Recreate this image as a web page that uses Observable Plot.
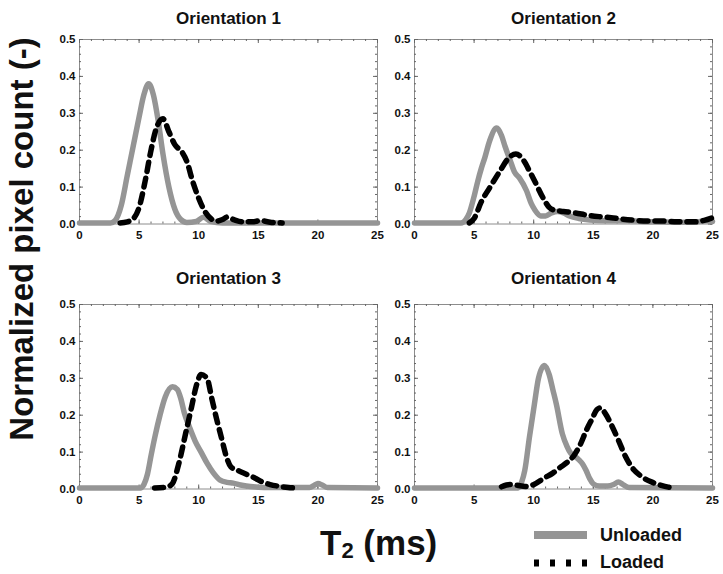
<!DOCTYPE html>
<html>
<head>
<meta charset="utf-8">
<script src="https://cdn.jsdelivr.net/npm/d3@7"></script>
<script src="https://cdn.jsdelivr.net/npm/@observablehq/plot@0.6"></script>
<style>
  body { margin: 0; background: #fff; }
  #chart { position: relative; width: 723px; height: 574px; overflow: hidden; background: #fff;
           font-family: "Liberation Sans", Arial, sans-serif; }
  .panel { position: absolute; }
  .panel svg { overflow: visible; }
  .panel svg text { font-weight: bold; }
  #overlay { position: absolute; left: 0; top: 0; }
</style>
</head>
<body>
<div id="chart"></div>
<script>
// T2 distributions (T2 in ms, normalized pixel count) for each orientation
const panelTitles = ["Orientation 1", "Orientation 2", "Orientation 3", "Orientation 4"];

const o1Unloaded = [[0,0.003],[2.6,0.003],[3.0,0.01],[3.5,0.05],[4.0,0.13],[4.5,0.21],[5.0,0.29],[5.4,0.35],[5.8,0.38],
  [6.2,0.35],[6.6,0.28],[7.0,0.19],[7.5,0.1],[8.0,0.04],[8.5,0.012],[9.0,0.004],[9.8,0.007],[10.4,0.018],[11.0,0.007],[12.0,0.003],[25,0.003]];
const o1Loaded = [[3.4,0.003],[4.0,0.006],[4.5,0.014],[5.0,0.045],[5.5,0.115],[6.0,0.2],[6.4,0.255],[7.0,0.285],[7.5,0.25],
  [8.0,0.215],[8.6,0.195],[9.0,0.17],[9.5,0.115],[10.0,0.07],[10.5,0.035],[11.0,0.015],[11.5,0.008],[12.0,0.012],[12.4,0.019],
  [13.0,0.011],[13.6,0.006],[14.5,0.006],[15.2,0.009],[16.0,0.005],[17.0,0.003]];

const o2Unloaded = [[0,0.003],[3.9,0.003],[4.3,0.012],[4.6,0.03],[5.0,0.075],[5.3,0.115],[5.6,0.15],[5.9,0.18],[6.3,0.225],
  [6.9,0.26],[7.3,0.24],[7.6,0.21],[8.0,0.175],[8.4,0.14],[8.8,0.125],[9.4,0.09],[9.8,0.055],[10.1,0.038],[10.6,0.022],
  [11.0,0.022],[11.5,0.03],[12.0,0.034],[12.5,0.03],[13.0,0.022],[13.8,0.015],[14.7,0.011],[16.0,0.009],[18.0,0.009],
  [19.0,0.007],[20.0,0.006],[22.0,0.005],[23.5,0.005],[24.5,0.009],[25,0.007]];
const o2Loaded = [[4.6,0.003],[5.0,0.015],[5.6,0.06],[6.3,0.098],[7.2,0.145],[7.8,0.175],[8.5,0.19],[9.2,0.17],[9.7,0.14],
  [10.1,0.115],[10.8,0.07],[11.3,0.045],[11.8,0.037],[12.5,0.034],[13.5,0.03],[14.5,0.024],[15.5,0.02],[16.5,0.017],
  [17.5,0.013],[18.5,0.01],[19.5,0.008],[20.8,0.008],[22.0,0.006],[23.5,0.006],[24.3,0.01],[25,0.017]];

const o3Unloaded = [[0,0.003],[5.1,0.003],[5.4,0.012],[5.7,0.04],[6.0,0.09],[6.35,0.145],[6.75,0.2],[7.2,0.25],[7.8,0.277],
  [8.2,0.27],[8.5,0.245],[8.8,0.205],[9.2,0.17],[9.7,0.13],[10.2,0.1],[10.7,0.07],[11.2,0.045],[11.8,0.024],[12.4,0.018],
  [12.9,0.016],[13.5,0.011],[14.0,0.008],[15.0,0.005],[16.0,0.004],[19.3,0.004],[19.7,0.01],[20.0,0.015],[20.4,0.01],
  [20.8,0.004],[25,0.003]];
const o3Loaded = [[6.3,0.003],[7.3,0.005],[7.8,0.015],[8.3,0.065],[8.9,0.15],[9.4,0.222],[9.8,0.28],[10.2,0.31],[10.7,0.3],
  [11.1,0.245],[11.5,0.19],[11.9,0.14],[12.3,0.09],[12.7,0.06],[13.3,0.05],[14.0,0.04],[14.7,0.03],[15.4,0.018],[16.0,0.012],
  [16.8,0.007],[17.5,0.004],[18.0,0.003]];

const o4Unloaded = [[0,0.003],[8.7,0.003],[9.0,0.02],[9.25,0.05],[9.64,0.14],[10.06,0.23],[10.4,0.3],[10.9,0.335],[11.3,0.31],
  [11.6,0.27],[11.9,0.23],[12.4,0.15],[12.8,0.115],[13.1,0.097],[13.5,0.088],[13.8,0.079],[14.1,0.068],[14.4,0.05],
  [14.7,0.028],[15.0,0.014],[15.5,0.008],[16.2,0.008],[16.7,0.012],[17.1,0.019],[17.5,0.012],[18.0,0.004],[25,0.003]];
const o4Loaded = [[7.3,0.006],[8.0,0.012],[8.6,0.01],[9.3,0.007],[10.0,0.012],[10.9,0.03],[11.6,0.043],[12.2,0.058],
  [12.8,0.072],[13.4,0.092],[13.9,0.12],[14.4,0.158],[14.9,0.19],[15.3,0.215],[15.6,0.22],[16.0,0.205],[16.5,0.175],
  [17.1,0.133],[17.7,0.088],[18.4,0.052],[19.0,0.035],[19.8,0.02],[20.5,0.012],[21.3,0.005],[21.8,0.003]];

// axis ticks
const xTicks = [0, 5, 10, 15, 20, 25];
const yTicks = [0, 0.1, 0.2, 0.3, 0.4, 0.5];
const xMinor = d3.range(0, 26, 1);
const yMinor = d3.range(0, 26, 1).map(i => i * 0.02);

const seriesNames = ["Unloaded", "Loaded"];
const unloadedGray = "#959595";
const frameGray = "#8c8c8c";
const tickGray = "#666";

const chart = document.getElementById("chart");

// frame geometry of the 2x2 grid
const W = 298, H = 184.5;
const colLeft = [79.3, 414.3];
const rowTop = [38.5, 304.3];
const titleGap = [16, 21];

function panel(title, unloaded, loaded, col, row) {
  const mL = 40, mR = 10, mT = 40, mB = 26;
  const plot = Plot.plot({
    width: mL + W + mR,
    height: mT + H + mB,
    marginLeft: mL, marginRight: mR, marginTop: mT, marginBottom: mB,
    style: { background: "transparent", fontSize: "11.5px", fontFamily: "'Liberation Sans', Arial, sans-serif", color: "#111" },
    x: { domain: [0, 25], ticks: xTicks, tickSize: 0, tickPadding: 6.5, label: null, tickFormat: d => String(d) },
    y: { domain: [0, 0.5], ticks: yTicks, tickSize: 0, tickPadding: 4, label: null, tickFormat: d3.format(".1f") },
    marks: [
      Plot.frame({ stroke: frameGray, strokeWidth: 1 }),
      // minor and major ticks along all four edges, pointing inward
      Plot.tickX(xMinor, { x: d => d, insetTop: H - 2, stroke: tickGray }),
      Plot.tickX(xTicks, { x: d => d, insetTop: H - 4, stroke: tickGray }),
      Plot.tickX(xMinor, { x: d => d, insetBottom: H - 2, stroke: tickGray }),
      Plot.tickX(xTicks, { x: d => d, insetBottom: H - 4, stroke: tickGray }),
      Plot.tickY(yMinor, { y: d => d, insetRight: W - 2, stroke: tickGray }),
      Plot.tickY(yTicks, { y: d => d, insetRight: W - 4, stroke: tickGray }),
      Plot.tickY(yMinor, { y: d => d, insetLeft: W - 2, stroke: tickGray }),
      Plot.tickY(yTicks, { y: d => d, insetLeft: W - 4, stroke: tickGray }),
      Plot.line(unloaded, { x: d => d[0], y: d => d[1], stroke: unloadedGray, strokeWidth: 5.5,
        curve: "monotone-x", strokeLinejoin: "round" }),
      Plot.line(loaded, { x: d => d[0], y: d => d[1], stroke: "#000", strokeWidth: 5.5,
        strokeDasharray: "9,7", curve: "monotone-x" }),
      Plot.text([title], { text: d => d, frameAnchor: "top", dy: -titleGap[row], lineAnchor: "bottom",
        fontSize: 17, fontWeight: "bold", fill: "#111" })
    ]
  });
  const div = document.createElement("div");
  div.className = "panel";
  div.style.left = (colLeft[col] - mL) + "px";
  div.style.top = (rowTop[row] - mT) + "px";
  div.appendChild(plot);
  chart.appendChild(div);
}

panel(panelTitles[0], o1Unloaded, o1Loaded, 0, 0);
panel(panelTitles[1], o2Unloaded, o2Loaded, 1, 0);
panel(panelTitles[2], o3Unloaded, o3Loaded, 0, 1);
panel(panelTitles[3], o4Unloaded, o4Loaded, 1, 1);

// shared axis titles and legend
const svg = d3.create("svg").attr("id", "overlay").attr("width", 723).attr("height", 574)
  .style("pointer-events", "none");
const font = "'Liberation Sans', Arial, sans-serif";

svg.append("text")
  .attr("transform", "translate(33,239) rotate(-90)")
  .attr("text-anchor", "middle")
  .attr("font-family", font).attr("font-weight", "bold").attr("font-size", 33).attr("fill", "#111")
  .text("Normalized pixel count (-)");

const xl = svg.append("text").attr("x", 320).attr("y", 555)
  .attr("font-family", font).attr("font-weight", "bold").attr("font-size", 35).attr("fill", "#111");
xl.append("tspan").text("T");
xl.append("tspan").attr("font-size", 22).attr("dy", 3).text("2");
xl.append("tspan").attr("dy", -3).text(" (ms)");

const lg = svg.append("g");
lg.append("line").attr("x1", 534).attr("x2", 587).attr("y1", 535).attr("y2", 535)
  .attr("stroke", unloadedGray).attr("stroke-width", 8);
lg.append("line").attr("x1", 534).attr("x2", 587).attr("y1", 563).attr("y2", 563)
  .attr("stroke", "#000").attr("stroke-width", 7).attr("stroke-dasharray", "5,11");
lg.append("text").attr("x", 600).attr("y", 541).text(seriesNames[0])
  .attr("font-family", font).attr("font-weight", "bold").attr("font-size", 18).attr("fill", "#111");
lg.append("text").attr("x", 600).attr("y", 568).text(seriesNames[1])
  .attr("font-family", font).attr("font-weight", "bold").attr("font-size", 18).attr("fill", "#111");

chart.appendChild(svg.node());
</script>
</body>
</html>
